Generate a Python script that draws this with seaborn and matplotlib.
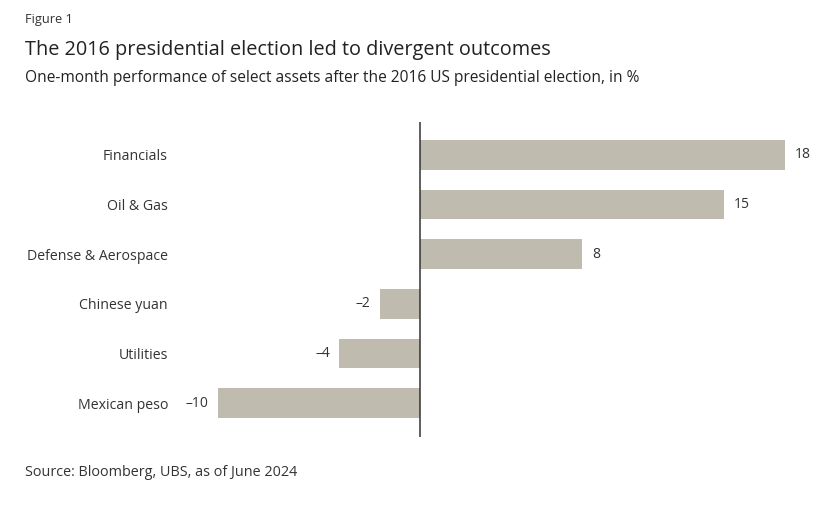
import matplotlib
matplotlib.use("Agg")
import matplotlib.pyplot as plt
import seaborn as sns

# Datos
categories = ["Financials", "Oil & Gas", "Defense & Aerospace", "Chinese yuan", "Utilities", "Mexican peso"]
values = [18, 15, 8, -2, -4, -10]
value_labels = ["18", "15", "8", "\u20132", "\u20134", "\u201310"]

sns.set_style("white")
plt.rcParams['font.family'] = ['Open Sans', 'DejaVu Sans']
text_color = "#333333"
bar_color = "#BFBBAF"

fig = plt.figure(figsize=(8.16, 5.08), dpi=100)
ax = fig.add_axes([218 / 816, (508 - 437) / 508, 567 / 816, 315 / 508])

sns.barplot(x=values, y=categories, color=bar_color, saturation=1, width=0.6,
            linewidth=0, orient="h", ax=ax)

ax.set_xlim(-10, 18)
ax.set_ylim(5.685, -0.665)
ax.axvline(0, color=text_color, lw=1.1)

# Etiquetas de valores
ax.bar_label(ax.containers[0], labels=value_labels, padding=7, fontsize=10, color=text_color)

sns.despine(ax=ax, left=True, bottom=True)
ax.set_xticks([])
ax.tick_params(axis="y", length=0, pad=36, labelsize=10.2, labelcolor=text_color)
ax.set_xlabel("")
ax.set_ylabel("")

# Titulos y fuente
fig.text(25 / 816, 1 - 20 / 508, "Figure 1", fontsize=9.2, color=text_color, va="center")
fig.text(25 / 816, 1 - 50 / 508, "The 2016 presidential election led to divergent outcomes",
         fontsize=14.3, color="#222222", va="center")
fig.text(25 / 816, 1 - 78 / 508, "One-month performance of select assets after the 2016 US presidential election, in %",
         fontsize=11.2, color="#222222", va="center")
fig.text(25 / 816, 1 - 472 / 508, "Source: Bloomberg, UBS, as of June 2024",
         fontsize=10.4, color=text_color, va="center")

fig.savefig("out.png", dpi=100)
